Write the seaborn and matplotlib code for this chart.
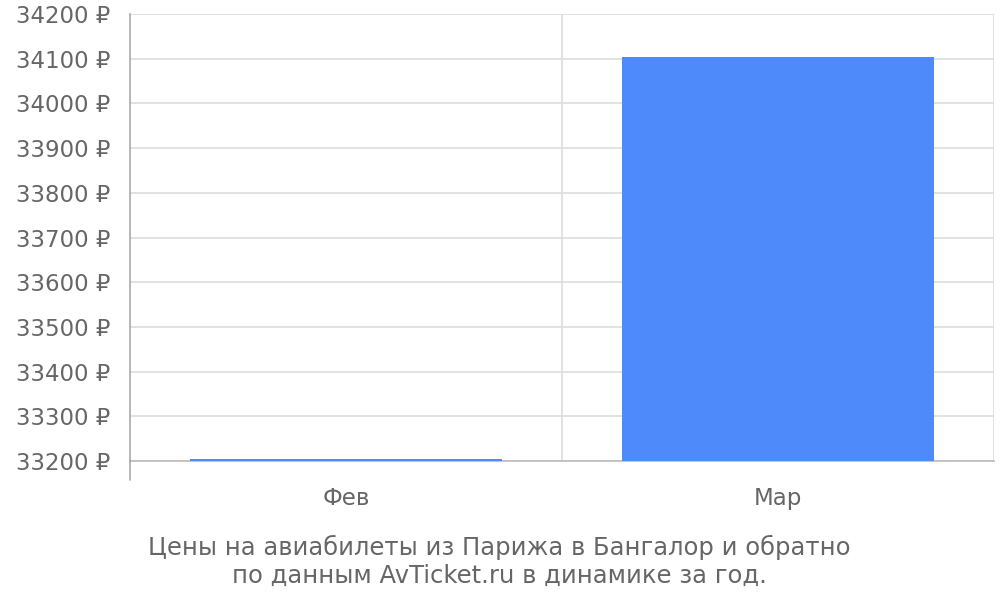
import seaborn as sns
import pandas as pd
import matplotlib.pyplot as plt
from matplotlib.ticker import FuncFormatter, FixedLocator

# data
months = ['Фев', 'Мар']
prices = [33205, 34104]
y_ticks = list(range(33200, 34201, 100))

df = pd.DataFrame({'month': months, 'price': prices})

sns.set_style('white')
plt.rcParams['font.family'] = ['DejaVu Sans']

text_color = '#666666'
grid_color = '#dddddd'
bar_color = '#4e8af9'

fig = plt.figure(figsize=(10, 6), dpi=100)
ax = fig.add_axes([0.13, 1 - 461 / 600, 0.994 - 0.13, (461 - 14) / 600])

sns.barplot(data=df, x='month', y='price', color=bar_color, width=0.72,
            saturation=1, linewidth=0, ax=ax, zorder=3)

ax.set_ylim(33200, 34200)
ax.set_xlim(-0.5, 1.5)
ax.yaxis.set_major_locator(FixedLocator(y_ticks))
ax.yaxis.set_major_formatter(FuncFormatter(lambda v, p: f'{int(v)} ₽'))
ax.grid(axis='y', color=grid_color, linewidth=1.2, zorder=0)
ax.set_axisbelow(True)

# category boundaries: light verticals that reach below the plot
for xb in [0.5, 1.5]:
    ax.axvline(xb, color=grid_color, linewidth=1.2, zorder=0)
ax.xaxis.set_minor_locator(FixedLocator([-0.5, 0.5, 1.5]))
ax.tick_params(axis='x', which='minor', length=14, width=1.2, color=grid_color, direction='out')
ax.tick_params(axis='x', which='major', length=0, pad=19, labelsize=16.5, labelcolor=text_color)
ax.tick_params(axis='y', length=13, width=1.2, color=grid_color, pad=1,
               labelsize=16.5, labelcolor=text_color)

for s in ['top', 'right']:
    ax.spines[s].set_visible(False)
ax.spines['left'].set_color('#aaaaaa')
ax.spines['left'].set_linewidth(1.2)
ax.spines['bottom'].set_color('#bbbbbb')
ax.spines['bottom'].set_linewidth(1.2)
ax.spines['bottom'].set_zorder(1)
ax.axvline(-0.5, ymin=-19 / 447, ymax=0, color='#aaaaaa', linewidth=1.2, clip_on=False)

ax.set_xlabel('')
ax.set_ylabel('')

fig.text(0.4995, 1 - 547 / 600, 'Цены на авиабилеты из Парижа в Бангалор и обратно',
         ha='center', va='center', fontsize=17.5, color=text_color)
fig.text(0.4995, 1 - 576 / 600, 'по данным AvTicket.ru в динамике за год.',
         ha='center', va='center', fontsize=17.5, color=text_color)

fig.savefig('out.png', dpi=100)
